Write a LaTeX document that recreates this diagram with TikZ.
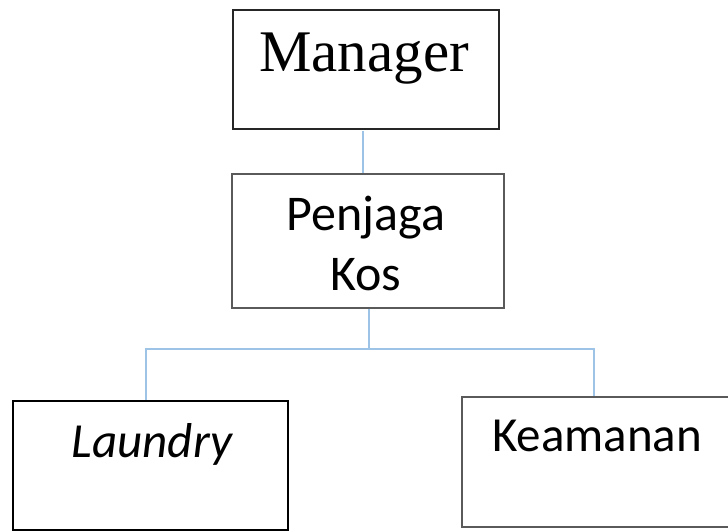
\documentclass[tikz,border=0pt]{standalone}
\usepackage{fontspec}
\setmainfont{Carlito}
\newfontfamily\serifmgr{Liberation Serif}
\definecolor{connblue}{HTML}{9DC3E6}
\definecolor{boxgray}{HTML}{5A5A5A}
\begin{document}
\begin{tikzpicture}[x=1pt,y=1pt,
  box/.style={draw, rectangle, inner sep=0pt, fill=white},
  conn/.style={draw=connblue, line width=2pt},
  lbl/.style={anchor=base, inner sep=0pt, font=\fontsize{49}{60}\selectfont}]
\useasboundingbox (0,0) rectangle (728,-532);
\clip (0,0) rectangle (728,-532);
% boxes
\node[box, draw=black!85, line width=2pt, minimum width=266pt, minimum height=119pt] (m) at (366,-69.5) {};
\node[box, draw=boxgray, line width=1.3pt, minimum width=272pt, minimum height=134pt] (p) at (368,-241) {};
\node[box, draw=black, line width=2.6pt, minimum width=275pt, minimum height=129pt] (l) at (150.5,-465.5) {};
\node[box, draw=boxgray, line width=1.6pt, minimum width=280pt, minimum height=130pt] (k) at (602,-462) {};
% texts
\node[lbl, font=\serifmgr\fontsize{59}{60}\selectfont] (mt) at (364,-72) {Manager};
\node[lbl, font=\fontsize{50}{60}\selectfont] (pt1) at (366,-230) {Penjaga};
\node[lbl, font=\fontsize{50}{60}\selectfont] (pt2) at (366,-290) {Kos};
\node[lbl, font=\itshape\fontsize{49}{60}\selectfont] (lt) at (152,-457) {Laundry};
\node[lbl] (kt) at (597,-451) {Keamanan};
% connectors
\coordinate (jl) at (146,-349);
\coordinate (jr) at (594,-349);
\draw[conn] ([xshift=-3pt,yshift=-1pt]m.south) -- ([xshift=-3pt]m.south |- p.north);
\draw[conn] ([xshift=1pt]p.south) -- ([xshift=1pt]p.south |- jl);
\draw[conn] (jl |- l.north) -- (jl) -- (jr) -- (jr |- k.north);
\end{tikzpicture}
\end{document}
